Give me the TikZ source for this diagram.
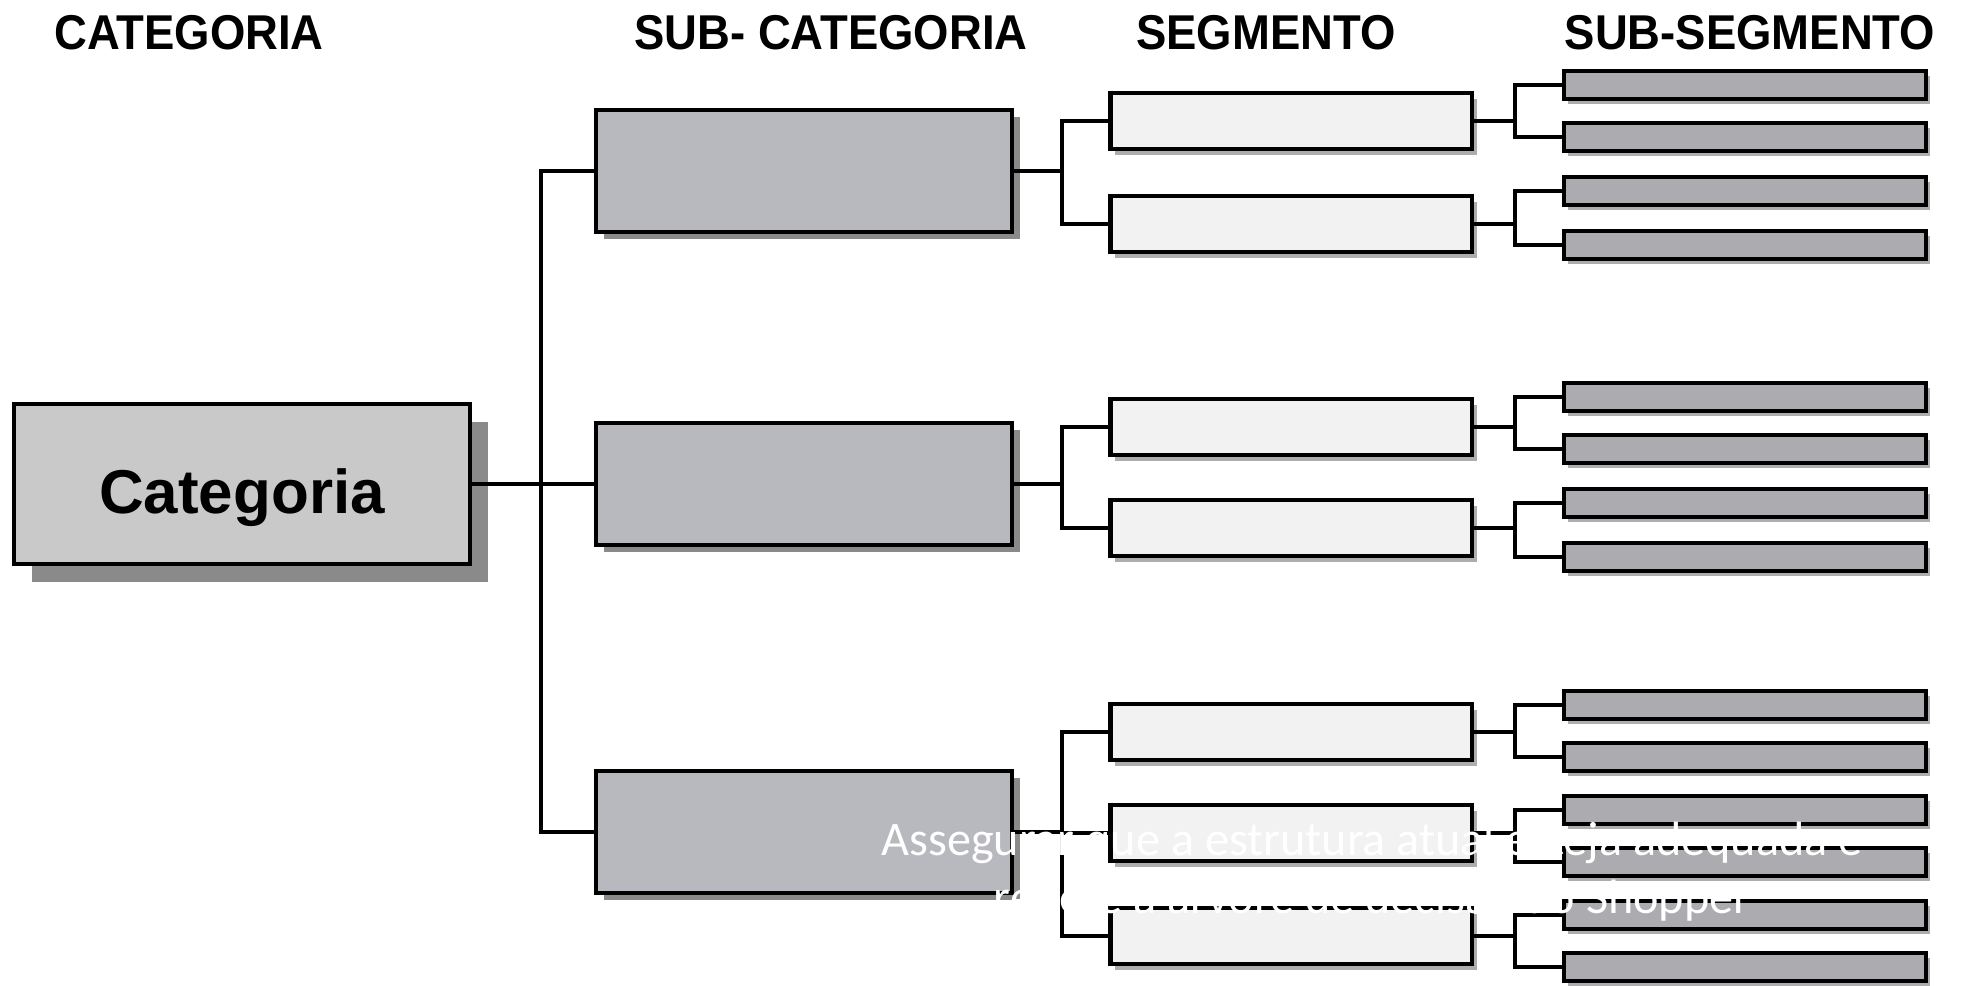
\documentclass[tikz,border=0pt]{standalone}
\usepackage{fontspec}
\setmainfont{Liberation Sans}
\newfontfamily\headfont[FakeStretch=0.93]{Liberation Sans}
\newfontfamily\notefont{Carlito}
\usetikzlibrary{shadows}
\definecolor{catfill}{HTML}{C9C9C9}
\definecolor{subcatfill}{HTML}{B8B8BF}
\definecolor{segfill}{HTML}{F2F2F2}
\definecolor{subsegfill}{HTML}{ABABB0}
\definecolor{shade}{HTML}{8A8A8A}
\tikzset{plate/.style={draw,line width=1.2pt,inner sep=0pt,outer sep=0pt},
  catbox/.style={plate,fill=catfill,minimum width=4.56cm,minimum height=1.6cm,
    font=\bfseries\fontsize{17.6}{20}\selectfont,text height=0.58cm,text depth=0pt,
    drop shadow={shadow xshift=0.18cm,shadow yshift=-0.18cm,fill=shade,opacity=1}},
  subcatbox/.style={plate,fill=subcatfill,minimum width=4.15cm,minimum height=1.22cm,
    drop shadow={shadow xshift=0.08cm,shadow yshift=-0.07cm,fill=shade,opacity=1}},
  segbox/.style={plate,fill=segfill,minimum width=3.61cm,minimum height=0.56cm,
    drop shadow={shadow xshift=0.05cm,shadow yshift=-0.06cm,fill=shade!70,opacity=1}},
  subsegbox/.style={plate,fill=subsegfill,minimum width=3.62cm,minimum height=0.28cm,
    drop shadow={shadow xshift=0.04cm,shadow yshift=-0.05cm,fill=shade!70,opacity=1}},
  head/.style={anchor=base,font=\headfont\bfseries\fontsize{13.9}{16}\selectfont},
  note/.style={anchor=base,text=white,font=\notefont\fontsize{13.7}{16}\selectfont},
  link/.style={line width=0.9pt}}
\begin{document}
\begin{tikzpicture}[x=0.01cm,y=-0.01cm]
\useasboundingbox (0,0) rectangle (1964,986);
\node[head] (hcat) at (189,50) {CATEGORIA};
\node[head] (hsubcat) at (831,50) {SUB- CATEGORIA};
\node[head] (hseg) at (1266,50) {SEGMENTO};
\node[head] (hsubseg) at (1750,50) {SUB-SEGMENTO};
\node[catbox] (cat) at (242,484) {Categoria};
\foreach \n/\y in {1/171,2/484,3/832} \node[subcatbox] (sc\n) at (804,\y) {};
\foreach \n/\y in {1/121,2/224,3/427,4/528,5/732,6/833,7/936} \node[segbox] (seg\n) at (1291,\y) {};
\foreach \n/\y in {1/85,2/137,3/191,4/245,5/397,6/449,7/503,8/557,9/705,10/757,11/810,12/862,13/915,14/967}
  \node[subsegbox] (ss\n) at (1745,\y) {};
\coordinate (trunk) at (cat.east -| 541,0);
\draw[link] (sc1.west) -| (trunk) |- (sc3.west);
\draw[link] (cat.east) -- (trunk) -- (sc2.west);
\foreach \i in {1,2,3} {\coordinate (fk\i) at (sc\i.east -| 1062,0); \draw[link] (sc\i.east) -- (fk\i);}
\draw[link] (seg1.west) -| (fk1) |- (seg2.west);
\draw[link] (seg3.west) -| (fk2) |- (seg4.west);
\draw[link] (seg5.west) -| (fk3) |- (seg7.west);
\draw[link] (seg6.west) -- (seg6.west -| fk3);
\foreach \s/\a/\b in {1/1/2,2/3/4,3/5/6,4/7/8,5/9/10,6/11/12,7/13/14} {
  \coordinate (gk\s) at (seg\s.east -| 1515,0);
  \draw[link] (ss\a.west) -| (gk\s) |- (ss\b.west);
  \draw[link] (seg\s.east) -- (gk\s);
}
\node[note] (note1) at (1372,855) {Assegurar que a estrutura atual esteja adequada e};
\node[note] (note2) at (1372,913) {reflete a árvore de decisão do Shopper};
\end{tikzpicture}
\end{document}
